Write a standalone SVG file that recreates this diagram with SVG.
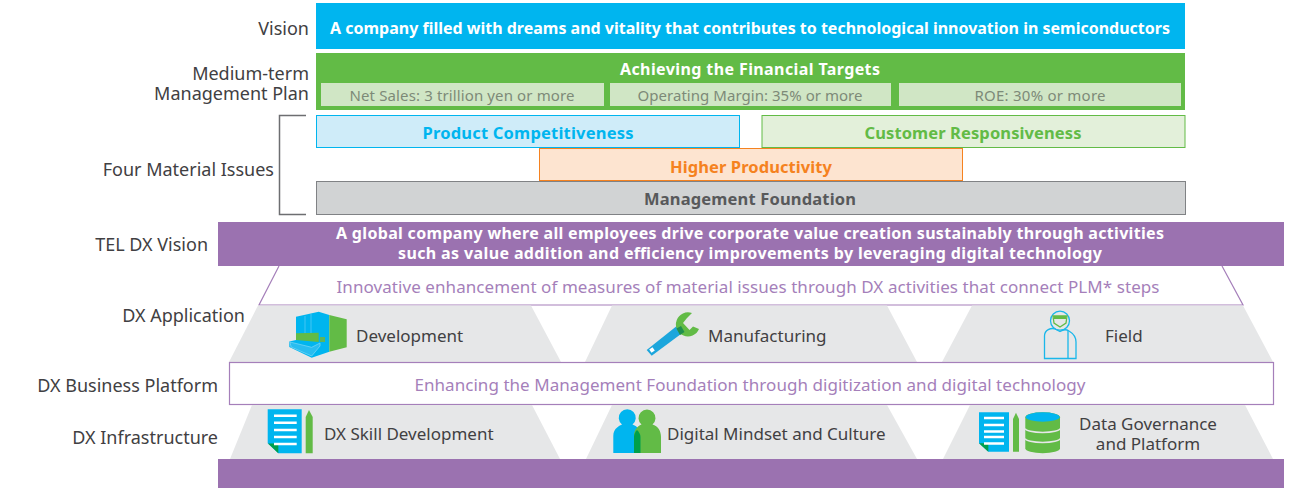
<svg xmlns="http://www.w3.org/2000/svg" width="1293" height="488" viewBox="0 0 1293 488">
<style>
text{font-family:"Noto Sans","Open Sans","Liberation Sans",sans-serif}
.l{font-size:18px;fill:#414042;text-anchor:end}
.w{font-size:16px;font-weight:700;fill:#fff;text-anchor:middle}
.s{font-size:15px;fill:#7d8a78;text-anchor:middle}
.p{font-size:17px;fill:#a57fba;text-anchor:middle}
.d{font-size:17px;fill:#414042}
.m{font-size:16.5px;font-weight:700;text-anchor:middle}
.g{fill:#e6e7e8}
.b{fill:#00b5ef}
.n{fill:#62bb46}
.k{fill:#00a04b}
.x{fill:#fff}
</style>
<g id="labels">
<text class="l" x="309" y="35">Vision</text>
<text class="l" x="309" y="80">Medium-term</text>
<text class="l" x="309" y="100">Management Plan</text>
<text class="l" x="274" y="176">Four Material Issues</text>
<text class="l" x="208" y="251">TEL DX Vision</text>
<text class="l" x="245" y="322">DX Application</text>
<text class="l" x="218" y="392">DX Business Platform</text>
<text class="l" x="218" y="444">DX Infrastructure</text>
</g>
<g id="vision"><rect x="316" y="3" width="869" height="46" class="b"/><text class="w" x="750" y="34" textLength="840">A company filled with dreams and vitality that contributes to technological innovation in semiconductors</text></g>
<g id="plan"><rect x="316" y="53" width="869" height="57" class="n"/><text class="w" x="750" y="75" textLength="260">Achieving the Financial Targets</text>
<rect x="321" y="83" width="283" height="23" fill="#d0e6c5"/><text class="s" x="462" y="101" textLength="225">Net Sales: 3 trillion yen or more</text>
<rect x="610" y="83" width="281" height="23" fill="#d0e6c5"/><text class="s" x="750" y="101" textLength="225">Operating Margin: 35% or more</text>
<rect x="899" y="83" width="282" height="23" fill="#d0e6c5"/><text class="s" x="1040" y="101" textLength="131">ROE: 30% or more</text></g>
<g id="connectors"><path d="M306 115.500H279.500V214.500H306" fill="none" stroke="#6d6e71" stroke-width="1.500"/></g>
<g id="product"><rect x="316.500" y="115.500" width="423" height="32" fill="#cfecf9" stroke="#00b5ef"/><text class="m" fill="#00b5ef" x="528" y="139" style="fill:#00b5ef" textLength="211">Product Competitiveness</text></g>
<g id="customer"><rect x="762" y="115.500" width="423" height="32" fill="#e3f0da" stroke="#62bb46"/><text class="m" style="fill:#62bb46" x="973" y="139" textLength="217">Customer Responsiveness</text></g>
<g id="productivity"><rect x="539.500" y="148.500" width="423" height="32" fill="#fde4d0" stroke="#f58220"/><text class="m" style="fill:#f58220" x="751" y="173" textLength="162">Higher Productivity</text></g>
<g id="foundation"><rect x="316.500" y="181.500" width="869" height="33" fill="#d1d3d4" stroke="#808285"/><text class="m" style="fill:#58595b" x="750" y="205" textLength="212">Management Foundation</text></g>
<g id="dxvision"><rect x="218" y="222" width="1066" height="44" fill="#9b72b0"/><text class="w" x="750" y="239" textLength="828">A global company where all employees drive corporate value creation sustainably through activities</text><text class="w" x="750" y="259" textLength="704">such as value addition and efficiency improvements by leveraging digital technology</text></g>
<g id="app-band"><path d="M279 266L259 305H1243L1222 266" fill="#fff" stroke="#a57fba" stroke-width="1.200"/><text class="p" x="748" y="293" textLength="823">Innovative enhancement of measures of material issues through DX activities that connect PLM* steps</text></g>
<g id="development"><path class="g" d="M258 305.500H531L561 362H229Z"/>
<path class="b" d="M296 316.700L318.700 311.700L329.300 315V351.700L311.700 357.700L289.300 347V341.500L296 340Z"/><path class="n" d="M329.300 315L346.700 319.300V347.300L329.300 351.700Z"/><path class="n" d="M296 333.300L318.700 332.700V342L296 340Z"/><path d="M290 342L311.700 347.300L320 343V346L311.700 356L291 347Z" fill="#29bdf0" stroke="#8fdcf7" stroke-width=".6"/><path d="M305 316V333M311 314V333" stroke="#6fd2f5" stroke-width=".6"/><rect x="320" y="337" width="5" height="5" fill="#5fb55a"/>
<text class="d" x="356" y="342">Development</text></g>
<g id="manufacturing"><path class="g" d="M612 305.500H887L917 362H585Z"/>
<path d="M646.700 350L651.700 355.700L683 332.500L678 325Z" fill="#1ca6dc"/><rect x="650" y="348" width="4" height="4" class="x" transform="rotate(-35 652 350)"/>
<path class="n" d="M692 313.100A12 12 0 1 0 699 329L693 326.500L689.500 330L683 323L687 318L692 313.100Z"/><path d="M676.500 328.500L681 326L684.500 332L680 335Z" fill="#1f8f4e"/>
<text class="d" x="708" y="342">Manufacturing</text></g>
<g id="field"><path class="g" d="M972 305.500H1243L1273 362H942Z"/>
<g fill="none" stroke="#1ab7ea" stroke-width="1.300"><circle cx="1060" cy="320.700" r="9.500"/><path d="M1044.500 358.500V336C1044.500 330 1051 327.500 1055 329L1060 331.500C1063 329.500 1066 329 1069 331C1074 334 1076 338 1076 342V358.500Z"/><path d="M1068 331V358.500"/></g>
<path d="M1053 316H1067L1066 323L1060 327L1054 323Z" fill="none" stroke="#62bb46" stroke-width="1.300"/><rect x="1054" y="316" width="12" height="3" class="n"/>
<text class="d" x="1105" y="342">Field</text></g>
<g id="platform-band"><rect x="229.500" y="362.500" width="1044" height="42" fill="#fff" stroke="#a57fba" stroke-width="1.200"/><text class="p" x="750" y="391" textLength="671">Enhancing the Management Foundation through digitization and digital technology</text></g>
<g id="skill"><path class="g" d="M252 405H532L560 459H230Z"/>
<path class="b" d="M267.700 409.300H301.700V453.300H278.300L267.700 443.300Z"/><path class="k" d="M268 443.500H278.300V453.300Z"/><path d="M274 415.700H296.700M274 422.700H296.700M274 430H296.700M274 437H296.700M274 444H296.700" stroke="#fff" stroke-width="2.500"/><path class="n" d="M305.700 453.300V417L309 410L312.700 417V453.300Z"/>
<text class="d" x="324" y="440">DX Skill Development</text></g>
<g id="mindset"><path class="g" d="M612 405H887L917 459H586Z"/>
<path class="b" d="M613.300 453V436C613.300 428 620 425.500 622 424.500A8.500 8.500 0 1 1 632.500 424.500C637 426 640 430 641 434V453Z"/>
<path class="n" d="M634 453V436C634 430 637 426.500 641.500 424.500A8.500 8.500 0 1 1 652.500 424.500C658 426 661 431 661 437V453Z"/>
<path d="M634 453V436.500C634 434 635.500 431.500 637 430C639 432 640.500 434 640.500 437V453Z" class="k"/>
<text class="d" x="667" y="440">Digital Mindset and Culture</text></g>
<g id="data"><path class="g" d="M970 405H1245L1273 459H943Z"/>
<path class="b" d="M979 412.300H1009V451.700H988.300L979 443.300Z"/><path class="k" d="M979 443.300H988.300V451.700Z"/><path d="M984 418H1004M984 425H1004M984 431.500H1004M984 437H1004M984 443.500H1004" stroke="#fff" stroke-width="2.300"/><path class="n" d="M1013 451.700V419L1016 412.700L1019 419V451.700Z"/>
<path class="n" d="M1025.300 417.300A17.300 5 0 0 1 1060 417.300V448.300A17.300 5 0 0 1 1025.300 448.300Z"/><ellipse cx="1042.700" cy="417" rx="17" ry="4.700" class="b"/><path d="M1025.300 428.500A17.300 4 0 0 0 1060 428.500M1025.300 438.500A17.300 4 0 0 0 1060 438.500" fill="none" stroke="#e6e7e8" stroke-width="1.500"/>
<text class="d" x="1148" y="430" text-anchor="middle">Data Governance</text><text class="d" x="1148" y="450" text-anchor="middle">and Platform</text></g>
<g id="base"><rect x="218" y="459" width="1066" height="29" fill="#9b72b0"/></g>
</svg>
